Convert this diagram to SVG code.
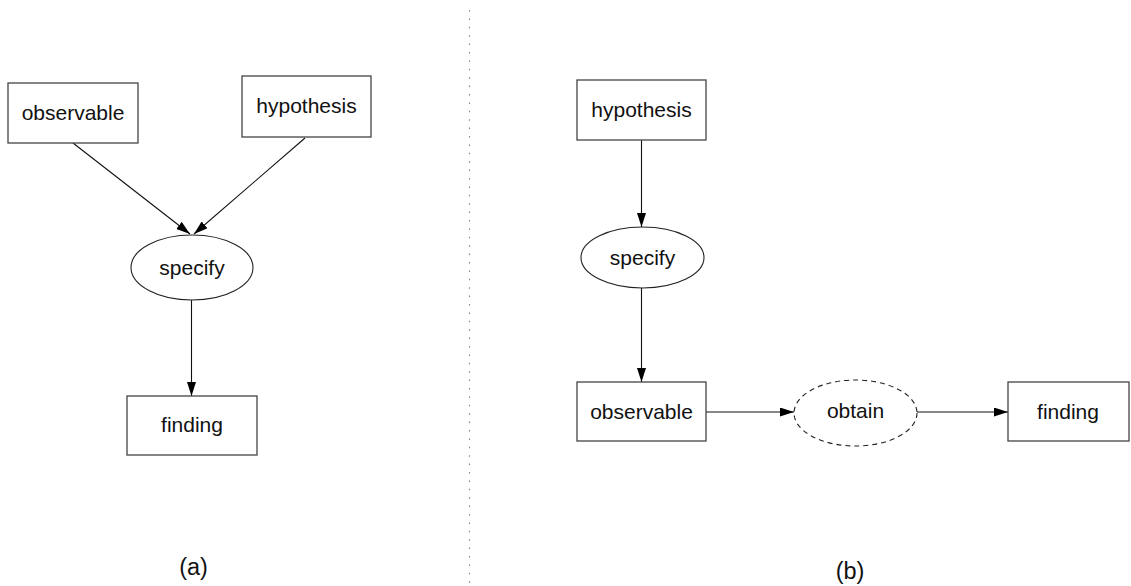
<svg xmlns="http://www.w3.org/2000/svg" width="1131" height="586" viewBox="0 0 1131 586">
  <style>
    .box { fill: #ffffff; stroke: #444444; stroke-width: 1.3; }
    .oval { fill: #ffffff; stroke: #222222; stroke-width: 1.1; }
    .dashed { stroke-dasharray: 5 4; }
    .edge { fill: none; stroke: #111111; stroke-width: 1.1; marker-end: url(#head); }
    .label { font-family: "Liberation Sans", Arial, sans-serif; font-size: 21px; fill: #111111; text-anchor: middle; }
    .caption { font-family: "Liberation Sans", Arial, sans-serif; font-size: 23.5px; fill: #111111; text-anchor: middle; }
    .divider { stroke: #8a8a8a; stroke-width: 1.2; stroke-dasharray: 1.5 6.9; }
  </style>
  <defs>
    <marker id="head" viewBox="0 0 14 9" refX="14" refY="4.5" markerWidth="14" markerHeight="9" markerUnits="userSpaceOnUse" orient="auto">
      <path d="M0,0 L14,4.5 L0,9 Z" fill="#000000"/>
    </marker>
  </defs>

  <rect width="1131" height="586" fill="#ffffff"/>

  <!-- separator between the two panels -->
  <line class="divider" x1="469.5" y1="10" x2="469.5" y2="586"/>

  <!-- connectors -->
  <g id="connectors">
    <line class="edge" x1="73" y1="143" x2="190" y2="234"/>
    <line class="edge" x1="305" y1="138" x2="194" y2="234"/>
    <line class="edge" x1="191.5" y1="300" x2="191.5" y2="396"/>
    <line class="edge" x1="641.5" y1="140" x2="641.5" y2="227"/>
    <line class="edge" x1="641.5" y1="288" x2="641.5" y2="382"/>
    <line class="edge" x1="706" y1="412" x2="794" y2="412"/>
    <line class="edge" x1="917" y1="412" x2="1008" y2="412"/>
  </g>

  <!-- panel (a) -->
  <g id="a-observable">
    <rect class="box" x="8" y="83" width="130" height="60"/>
    <text class="label" x="73" y="120">observable</text>
  </g>
  <g id="a-hypothesis">
    <rect class="box" x="242" y="76" width="129" height="61"/>
    <text class="label" x="306.5" y="113">hypothesis</text>
  </g>
  <g id="a-specify">
    <ellipse class="oval" cx="192" cy="267.5" rx="61" ry="32.5"/>
    <text class="label" x="192" y="275">specify</text>
  </g>
  <g id="a-finding">
    <rect class="box" x="127" y="396" width="130" height="59"/>
    <text class="label" x="192" y="432">finding</text>
  </g>
  <text id="caption-a" class="caption" x="193.5" y="575">(a)</text>

  <!-- panel (b) -->
  <g id="b-hypothesis">
    <rect class="box" x="577" y="80" width="129" height="60"/>
    <text class="label" x="641.5" y="117">hypothesis</text>
  </g>
  <g id="b-specify">
    <ellipse class="oval" cx="642.5" cy="257.5" rx="61.5" ry="30.5"/>
    <text class="label" x="642.5" y="265">specify</text>
  </g>
  <g id="b-observable">
    <rect class="box" x="577" y="382" width="129" height="59"/>
    <text class="label" x="641.5" y="419">observable</text>
  </g>
  <g id="b-obtain">
    <ellipse class="oval dashed" cx="855.5" cy="413" rx="61.5" ry="33"/>
    <text class="label" x="855.5" y="418">obtain</text>
  </g>
  <g id="b-finding">
    <rect class="box" x="1008" y="382" width="121" height="59"/>
    <text class="label" x="1068" y="419">finding</text>
  </g>
  <text id="caption-b" class="caption" x="850" y="579">(b)</text>
</svg>
